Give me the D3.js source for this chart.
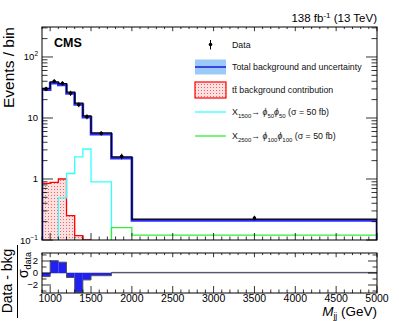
<!DOCTYPE html>
<head>
<meta charset="utf-8">
<style>
  html,body { margin:0; padding:0; background:#fff; }
  svg text { font-family: "Liberation Sans", Arial, sans-serif; }
</style>
<script src="https://d3js.org/d3.v7.min.js"></script>
</head>
<body>
<div id="chart"></div>
<script>
// bin edges (GeV) and per-bin contents
var binEdges   = [900, 1000, 1100, 1200, 1300, 1400, 1500, 1750, 2000, 5000];
var dataVals   = [30, 40, 37, 25.5, 16.5, 10.5, 5.6, 2.35, 0.23];
var dataErrs   = [2.5, 3, 3, 2.5, 1.5, 1, 0.45, 0.25, 0.02];
var bkgVals    = [30.5, 39, 36.5, 26.5, 17.5, 10.8, 5.7, 2.3, 0.22];
var ttbarVals  = [0.85, 0.88, 1.0, 0.25, 0.118, 0.05, 0, 0, 0];
var sig1500    = [0, 0, 0.49, 1.23, 2.3, 3.1, 0.9, 0, 0];
var sig2500    = [0, 0, 0, 0, 0, 0, 0, 0.16, 0.12];
var pullVals   = [-0.6, 2.05, 1.8, -0.75, -3.2, -1.15, -0.45, 0.1, 0.1];

var xTicks = [1000, 1500, 2000, 2500, 3000, 3500, 4000, 4500, 5000];
var pullTicks = [-2, 0, 2];

var W = 399, H = 321;
var padL = 42, padR = 377, padT = 27, padB = 240;
var rTop = 253, rBottom = 293;

var svg = d3.select("#chart").append("svg")
  .attr("width", W).attr("height", H);

var x = d3.scaleLinear().domain([900, 5000]).range([padL, padR]);
var y = d3.scaleLog().domain([0.1, 310]).range([padB, padT]).clamp(true);
var yr = d3.scaleLinear().domain([-3.33, 3.33]).range([rBottom, rTop]);

// step path for nonzero bins, closed down to the axis at both ends
var stepPath = function(vals, yscale) {
  var first = vals.findIndex(function(v){ return v > 0; });
  var last = vals.length - 1;
  while (last >= 0 && !(vals[last] > 0)) last--;
  var p = d3.path();
  p.moveTo(x(binEdges[first]), padB);
  for (var i = first; i <= last; i++) {
    p.lineTo(x(binEdges[i]), yscale(vals[i]));
    p.lineTo(x(binEdges[i+1]), yscale(vals[i]));
  }
  p.lineTo(x(binEdges[last+1]), padB);
  return p.toString();
};

// dotted hatch for ttbar
var defs = svg.append("defs");
var pat = defs.append("pattern").attr("id", "dots")
  .attr("width", 3).attr("height", 3).attr("patternUnits", "userSpaceOnUse");
pat.append("rect").attr("width", 3).attr("height", 3).attr("fill", "#ffe0e0");
pat.append("rect").attr("width", 1).attr("height", 1).attr("fill", "#ee6666");
defs.append("clipPath").attr("id", "mainclip").append("rect")
  .attr("x", padL).attr("y", padT).attr("width", padR - padL).attr("height", padB - padT);

var plot = svg.append("g").attr("clip-path", "url(#mainclip)");

// ttbar
plot.append("path").attr("d", stepPath(ttbarVals, y))
  .attr("fill", "url(#dots)").attr("stroke", "#ff0000").attr("stroke-width", 1.3);

// signals
plot.append("path").attr("d", stepPath(sig1500, y))
  .attr("fill", "none").attr("stroke", "#33ffff").attr("stroke-width", 1.3);
plot.append("path").attr("d", stepPath(sig2500, y))
  .attr("fill", "none").attr("stroke", "#33ee33").attr("stroke-width", 1.3);

// total background: blue band line with black line on top
plot.append("path").attr("d", stepPath(bkgVals, y))
  .attr("transform", "translate(0,1.3)")
  .attr("fill", "none").attr("stroke", "#2b2bff").attr("stroke-width", 2.6);
plot.append("path").attr("d", stepPath(bkgVals, y))
  .attr("fill", "none").attr("stroke", "#000").attr("stroke-width", 1.2);

// data points
var mids = dataVals.map(function(v, i){ return (binEdges[i] + binEdges[i+1]) / 2; });
dataVals.forEach(function(v, i) {
  plot.append("line")
    .attr("x1", x(mids[i])).attr("x2", x(mids[i]))
    .attr("y1", y(v - dataErrs[i])).attr("y2", y(v + dataErrs[i]))
    .attr("stroke", "#000").attr("stroke-width", 1);
  plot.append("circle").attr("cx", x(mids[i])).attr("cy", y(v)).attr("r", 1.8).attr("fill", "#000");
});

// frame and ticks, main pad
svg.append("rect").attr("x", padL).attr("y", padT).attr("width", padR - padL).attr("height", padB - padT)
  .attr("fill", "none").attr("stroke", "#000").attr("stroke-width", 1);

var xMinor = d3.range(900, 5001, 100);
var drawXTicks = function(y0, y1) {
  xMinor.forEach(function(t) {
    var len = (t % 500 === 0) ? 7 : 3.5;
    svg.append("line").attr("x1", x(t)).attr("x2", x(t)).attr("y1", y1).attr("y2", y1 - len)
      .attr("stroke", "#000").attr("stroke-width", 0.8);
    svg.append("line").attr("x1", x(t)).attr("x2", x(t)).attr("y1", y0).attr("y2", y0 + len * 0.6)
      .attr("stroke", "#000").attr("stroke-width", 0.8);
  });
};
drawXTicks(padT, padB);

var decades = [0.1, 1, 10, 100];
decades.forEach(function(d) {
  for (var k = 1; k < 10; k++) {
    var v = d * k;
    if (v > 310) break;
    var len = (k === 1) ? 11 : 5.5;
    svg.append("line").attr("x1", padL).attr("x2", padL + len).attr("y1", y(v)).attr("y2", y(v))
      .attr("stroke", "#000").attr("stroke-width", 0.8);
    svg.append("line").attr("x1", padR).attr("x2", padR - len).attr("y1", y(v)).attr("y2", y(v))
      .attr("stroke", "#000").attr("stroke-width", 0.8);
  }
});

// y tick labels
var yLab = function(v, base, sup) {
  var t = svg.append("text").attr("x", 38).attr("y", y(v) + 3.5)
    .attr("text-anchor", "end").attr("font-size", 9.5);
  t.append("tspan").text(base);
  if (sup) t.append("tspan").attr("dy", -4).attr("font-size", 6.5).text(sup);
};
yLab(0.1, "10", "\u22121");
yLab(1, "1");
yLab(10, "10");
yLab(100, "10", "2");

svg.append("text").attr("transform", "translate(14," + padT + ") rotate(-90)")
  .attr("text-anchor", "end").attr("font-size", 15.5).text("Events / bin");

svg.append("text").attr("x", 54).attr("y", 47).attr("font-size", 12.5)
  .attr("font-weight", "bold").text("CMS");

var lumi = svg.append("text").attr("x", padR).attr("y", 22)
  .attr("text-anchor", "end").attr("font-size", 11.5);
lumi.append("tspan").text("138 fb");
lumi.append("tspan").attr("dy", -4).attr("font-size", 8).text("-1");
lumi.append("tspan").attr("dy", 4).text(" (13 TeV)");

// legend
var legX = 195, legW = 31, legTextX = 232, fs = 8.8;
var rows = [44.5, 67, 90, 112, 136];
svg.append("line").attr("x1", legX + legW / 2).attr("x2", legX + legW / 2)
  .attr("y1", rows[0] - 4.5).attr("y2", rows[0] + 5).attr("stroke", "#000").attr("stroke-width", 1);
svg.append("circle").attr("cx", legX + legW / 2).attr("cy", rows[0]).attr("r", 1.8).attr("fill", "#000");
svg.append("rect").attr("x", legX).attr("y", rows[1] - 7.5).attr("width", legW).attr("height", 15)
  .attr("fill", "#9ccaf8");
svg.append("line").attr("x1", legX).attr("x2", legX + legW).attr("y1", rows[1]).attr("y2", rows[1])
  .attr("stroke", "#0000cc").attr("stroke-width", 1.3);
svg.append("rect").attr("x", legX).attr("y", rows[2] - 8).attr("width", legW).attr("height", 16)
  .attr("fill", "url(#dots)").attr("stroke", "#ff0000").attr("stroke-width", 1.2);
svg.append("line").attr("x1", legX).attr("x2", legX + legW).attr("y1", rows[3]).attr("y2", rows[3])
  .attr("stroke", "#33ffff").attr("stroke-width", 1.3);
svg.append("line").attr("x1", legX).attr("x2", legX + legW).attr("y1", rows[4]).attr("y2", rows[4])
  .attr("stroke", "#33ee33").attr("stroke-width", 1.3);

var legText = function(row) {
  return svg.append("text").attr("x", legTextX).attr("y", row + 3).attr("font-size", fs).attr("fill", "#111");
};
legText(rows[0]).text("Data");
legText(rows[1]).text("Total background and uncertainty");
legText(rows[2]).text("tt\u0304 background contribution");
var sigText = function(row, mX, mPhi) {
  var t = legText(row);
  t.append("tspan").text("X");
  t.append("tspan").attr("dy", 2.5).attr("font-size", 6).text(mX);
  t.append("tspan").attr("dy", -2.5).text("\u2192 ");
  t.append("tspan").attr("font-style", "italic").text("\u03d5");
  t.append("tspan").attr("dy", 2.5).attr("font-size", 6).text(mPhi);
  t.append("tspan").attr("dy", -2.5).attr("font-style", "italic").text("\u03d5");
  t.append("tspan").attr("dy", 2.5).attr("font-size", 6).text(mPhi);
  t.append("tspan").attr("dy", -2.5).text(" (\u03c3 = 50 fb)");
};
sigText(rows[3], "1500", "50");
sigText(rows[4], "2500", "100");

// ratio pad
var pull = svg.append("g");
pull.append("line").attr("x1", padL).attr("x2", padR).attr("y1", yr(0)).attr("y2", yr(0))
  .attr("stroke", "#9090b8").attr("stroke-width", 1.2);
pullVals.forEach(function(v, i) {
  pull.append("rect").attr("x", x(binEdges[i])).attr("width", x(binEdges[i+1]) - x(binEdges[i]))
    .attr("y", Math.min(yr(v), yr(0))).attr("height", Math.abs(yr(v) - yr(0)))
    .attr("fill", "#2020f0");
});
var pp = d3.path();
pp.moveTo(x(binEdges[0]), yr(pullVals[0]));
pullVals.forEach(function(v, i) {
  pp.lineTo(x(binEdges[i]), yr(v));
  pp.lineTo(x(binEdges[i+1]), yr(v));
});
pull.append("path").attr("d", pp.toString()).attr("fill", "none")
  .attr("stroke", "#555").attr("stroke-width", 1);

svg.append("rect").attr("x", padL).attr("y", rTop).attr("width", padR - padL).attr("height", rBottom - rTop)
  .attr("fill", "none").attr("stroke", "#000").attr("stroke-width", 1);
drawXTicks(rTop, rBottom);
d3.range(-3, 4, 1).forEach(function(t) {
  var len = (t % 2 === 0) ? 9 : 4.5;
  svg.append("line").attr("x1", padL).attr("x2", padL + len).attr("y1", yr(t)).attr("y2", yr(t))
    .attr("stroke", "#000").attr("stroke-width", 0.8);
  svg.append("line").attr("x1", padR).attr("x2", padR - len).attr("y1", yr(t)).attr("y2", yr(t))
    .attr("stroke", "#000").attr("stroke-width", 0.8);
});
pullTicks.forEach(function(t) {
  svg.append("text").attr("x", 38).attr("y", yr(t) + 3.3).attr("text-anchor", "end")
    .attr("font-size", 9.5).text(t < 0 ? "\u2212" + Math.abs(t) : t);
});

xTicks.forEach(function(t) {
  svg.append("text").attr("x", x(t)).attr("y", 302).attr("text-anchor", "middle")
    .attr("font-size", 10.5).text(t);
});

var xl = svg.append("text").attr("x", padR).attr("y", 316).attr("text-anchor", "end").attr("font-size", 13.5);
xl.append("tspan").attr("font-style", "italic").text("M");
xl.append("tspan").attr("dy", 3).attr("font-size", 8.5).text("jj");
xl.append("tspan").attr("dy", -3).text(" (GeV)");

// ratio axis title as a fraction
svg.append("text").attr("transform", "translate(12,281) rotate(-90)")
  .attr("text-anchor", "middle").attr("font-size", 14).text("Data - bkg");
svg.append("line").attr("x1", 17.5).attr("x2", 17.5).attr("y1", 245).attr("y2", 318)
  .attr("stroke", "#000").attr("stroke-width", 1);
var sg = svg.append("text").attr("transform", "translate(28,265) rotate(-90)")
  .attr("text-anchor", "middle").attr("font-size", 14);
sg.append("tspan").text("\u03c3");
sg.append("tspan").attr("dy", 3).attr("font-size", 9).text("data");
</script>
</body>
</html>
